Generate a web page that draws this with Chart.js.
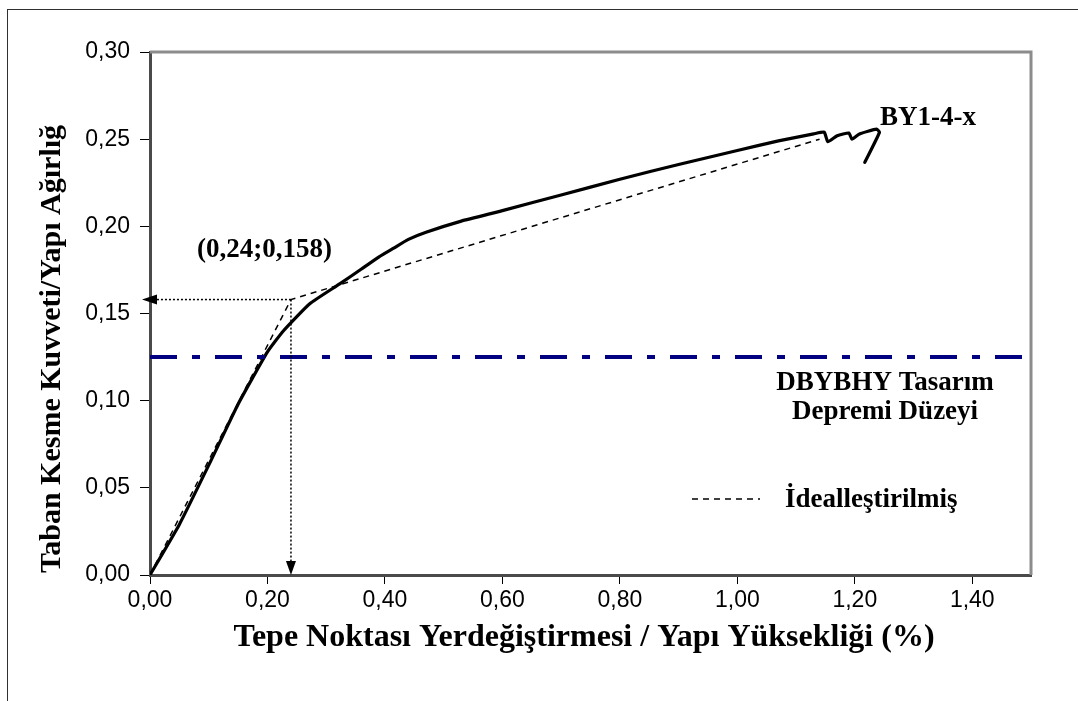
<!DOCTYPE html>
<html>
<head>
<meta charset="utf-8">
<script src="https://cdn.jsdelivr.net/npm/chart.js@4.4.0/dist/chart.umd.min.js"></script>
<style>
  html, body { margin: 0; padding: 0; background: #ffffff; }
  canvas { display: block; }
</style>
</head>
<body>
<canvas id="c" width="1078" height="701"></canvas>
<script>
// Pushover capacity curve of BY1-4-x: roof drift ratio (%) vs base shear / weight
const driftPct   = [0, 0.05, 0.10, 0.15, 0.20, 0.227, 0.272, 0.323, 0.36, 0.39, 0.415, 0.44, 0.47, 0.53, 0.60, 0.70, 0.80, 0.90, 1.00, 1.07, 1.13, 1.148, 1.154, 1.17, 1.19, 1.195, 1.208, 1.237, 1.242, 1.217];
const shearRatio = [0, 0.029, 0.063, 0.098, 0.128, 0.140, 0.1556, 0.167, 0.1755, 0.1825, 0.1875, 0.1925, 0.1966, 0.203, 0.209, 0.218, 0.227, 0.2355, 0.2435, 0.249, 0.253, 0.254, 0.2485, 0.252, 0.2535, 0.250, 0.253, 0.2558, 0.2539, 0.2367];

// Bilinear idealisation and its yield point
const idealDrift = [0, 0.24, 1.14];
const idealShear = [0, 0.158, 0.250];
const yieldDrift = 0.24;
const yieldShear = 0.158;

// Design earthquake level (DBYBHY)
const designLevel = 0.125;

// Axis ticks
const xTicks = [0, 0.20, 0.40, 0.60, 0.80, 1.00, 1.20, 1.40];
const yTicks = [0, 0.05, 0.10, 0.15, 0.20, 0.25, 0.30];
const xMax = 1.5;
const yMax = 0.30;

const serif = '"Liberation Serif", "Times New Roman", serif';
const sans = '"Liberation Sans", Arial, sans-serif';

const comma = (v, d) => v.toFixed(d).replace('.', ',');
const pts = (xs, ys) => xs.map((x, i) => ({ x: x, y: ys[i] }));

const decor = {
  id: 'decor',
  beforeDraw(chart) {
    const ctx = chart.ctx;
    ctx.save();
    ctx.fillStyle = '#ffffff';
    ctx.fillRect(0, 0, chart.width, chart.height);
    // outer chart frame
    ctx.strokeStyle = '#303030';
    ctx.lineWidth = 1;
    ctx.strokeRect(7.5, 9.5, chart.width + 10, chart.height + 10);
    ctx.restore();
  },
  beforeDatasetsDraw(chart) {
    const { ctx, chartArea: a } = chart;
    ctx.save();
    ctx.strokeStyle = '#8c8c8c';
    ctx.lineWidth = 3;
    ctx.beginPath();
    ctx.moveTo(a.left, a.top);
    ctx.lineTo(a.right, a.top);
    ctx.lineTo(a.right, a.bottom);
    ctx.stroke();
    ctx.restore();
  },
  afterDatasetsDraw(chart) {
    const { ctx, chartArea: a, scales } = chart;
    const px = scales.x.getPixelForValue(yieldDrift);
    const py = scales.y.getPixelForValue(yieldShear);
    ctx.save();
    ctx.strokeStyle = '#000000';
    ctx.fillStyle = '#000000';
    ctx.lineWidth = 1.5;
    ctx.setLineDash([2, 2]);
    // horizontal dotted leader to the shear axis
    ctx.beginPath();
    ctx.moveTo(px, py);
    ctx.lineTo(a.left + 6, py);
    ctx.stroke();
    // vertical dotted leader to the drift axis
    ctx.beginPath();
    ctx.moveTo(px, py);
    ctx.lineTo(px, a.bottom - 13);
    ctx.stroke();
    ctx.setLineDash([]);
    // arrow heads
    ctx.beginPath();
    ctx.moveTo(a.left - 8, py);
    ctx.lineTo(a.left + 7, py - 5);
    ctx.lineTo(a.left + 7, py + 5);
    ctx.closePath();
    ctx.fill();
    ctx.beginPath();
    ctx.moveTo(px, a.bottom);
    ctx.lineTo(px - 5, a.bottom - 14);
    ctx.lineTo(px + 5, a.bottom - 14);
    ctx.closePath();
    ctx.fill();
    ctx.restore();
  },
  afterDraw(chart) {
    const { ctx } = chart;
    ctx.save();
    ctx.fillStyle = '#000000';
    ctx.font = 'bold 27px ' + serif;
    ctx.textBaseline = 'middle';

    // point annotations
    ctx.textAlign = 'left';
    ctx.fillText('BY1-4-x', 880, 118);
    ctx.fillText('(' + comma(yieldDrift, 2) + ';' + comma(yieldShear, 3) + ')', 197, 250);

    ctx.textAlign = 'center';
    ctx.fillText('DBYBHY Tasarım', 885, 383);
    ctx.fillText('Depremi Düzeyi', 885, 412);

    // legend entry for the idealised curve
    const ds = chart.data.datasets[1];
    ctx.strokeStyle = ds.borderColor;
    ctx.lineWidth = ds.borderWidth;
    ctx.setLineDash(ds.borderDash);
    ctx.beginPath();
    ctx.moveTo(692, 499);
    ctx.lineTo(760, 499);
    ctx.stroke();
    ctx.setLineDash([]);
    ctx.textAlign = 'left';
    ctx.fillText(ds.label, 785, 500);

    // axis titles
    ctx.textAlign = 'center';
    ctx.font = 'bold 32px ' + serif;
    ctx.fillText('Tepe Noktası Yerdeğiştirmesi / Yapı Yüksekliği (%)', 584, 638);
    ctx.font = 'bold 30px ' + serif;
    ctx.translate(52, 349);
    ctx.rotate(-Math.PI / 2);
    ctx.fillText('Taban Kesme Kuvveti/Yapı Ağırlığ', 0, 0);
    ctx.restore();
  }
};

new Chart(document.getElementById('c'), {
  type: 'line',
  data: {
    datasets: [
      {
        label: 'DBYBHY Tasarım Depremi Düzeyi',
        data: [{ x: 0, y: designLevel }, { x: xMax, y: designLevel }],
        borderColor: '#000080',
        borderWidth: 4,
        borderDash: [27, 15, 8, 15],
        borderCapStyle: 'butt',
        pointRadius: 0,
        fill: false
      },
      {
        label: 'İdealleştirilmiş',
        data: pts(idealDrift, idealShear),
        borderColor: '#000000',
        borderWidth: 1.5,
        borderDash: [6, 5],
        pointRadius: 0,
        fill: false
      },
      {
        label: 'BY1-4-x',
        data: pts(driftPct, shearRatio),
        borderColor: '#000000',
        borderWidth: 3.2,
        borderJoinStyle: 'round',
        borderCapStyle: 'round',
        pointRadius: 0,
        tension: 0.15,
        fill: false
      }
    ]
  },
  options: {
    responsive: false,
    animation: false,
    devicePixelRatio: 1,
    layout: { padding: { left: 0, right: 47, top: 52, bottom: 0 } },
    plugins: {
      legend: { display: false },
      tooltip: { enabled: false },
      title: { display: false }
    },
    scales: {
      x: {
        type: 'linear',
        min: 0,
        max: xMax,
        afterBuildTicks: s => { s.ticks = xTicks.map(v => ({ value: v })); },
        afterFit: s => { s.height = 126; },
        ticks: {
          callback: v => comma(v, 2),
          color: '#000000',
          font: { family: sans, size: 23 },
          padding: 3,
          maxRotation: 0,
          autoSkip: false
        },
        grid: { drawOnChartArea: false, drawTicks: true, tickLength: 9, color: '#000000', lineWidth: 1 },
        border: { display: true, color: '#4a4a4a', width: 3 }
      },
      y: {
        type: 'linear',
        min: 0,
        max: yMax,
        afterBuildTicks: s => { s.ticks = yTicks.map(v => ({ value: v })); },
        afterFit: s => { s.width = 150; },
        ticks: {
          callback: v => comma(v, 2),
          color: '#000000',
          font: { family: sans, size: 23 },
          padding: 10,
          autoSkip: false
        },
        grid: { drawOnChartArea: false, drawTicks: true, tickLength: 10, color: '#000000', lineWidth: 1 },
        border: { display: true, color: '#4a4a4a', width: 3 }
      }
    }
  },
  plugins: [decor]
});
</script>
</body>
</html>
